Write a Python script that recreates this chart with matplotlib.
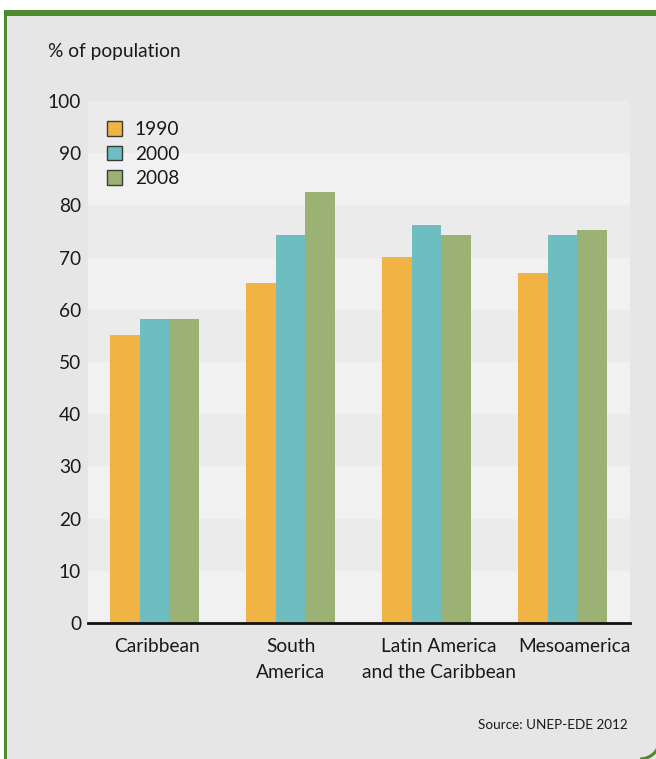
import matplotlib
matplotlib.use("Agg")
import matplotlib.pyplot as plt
import matplotlib.transforms as mtransforms
import numpy as np
from matplotlib.patches import Rectangle, Arc, Patch

categories = ["Caribbean", "South\nAmerica", "Latin America\nand the Caribbean", "Mesoamerica"]
years = ["1990", "2000", "2008"]
v1990 = [55.2, 65.1, 70.1, 67.0]
v2000 = [58.2, 74.3, 76.2, 74.3]
v2008 = [58.2, 82.6, 74.3, 75.3]
series = [v1990, v2000, v2008]
colors = ["#f2b345", "#6dbdc1", "#9bb274"]
yticks = [0, 10, 20, 30, 40, 50, 60, 70, 80, 90, 100]

plt.rcParams['font.family'] = ['Lato', 'DejaVu Sans']

W, H = 656, 759
fig = plt.figure(figsize=(W / 100, H / 100), dpi=100)
fig.patch.set_facecolor("white")

green = "#4d8a2e"
bg = "#e6e6e6"
fs = 13.8
# background panel
fig.add_artist(Rectangle((7 / W, 0), 1, 1 - 16 / H, transform=fig.transFigure,
                         facecolor=bg, edgecolor="none", zorder=0))
# top green bar
fig.add_artist(Rectangle((4 / W, 1 - 16 / H), 1, 6 / H, transform=fig.transFigure,
                         facecolor=green, edgecolor="none", zorder=1))
# left green line
fig.add_artist(Rectangle((4 / W, 0), 3 / W, 1 - 10 / H, transform=fig.transFigure,
                         facecolor=green, edgecolor="none", zorder=1))
# bottom-right rounded corner
fig.add_artist(Arc((640 / 100, 20 / 100), 0.40, 0.40, theta1=270, theta2=360,
                   transform=fig.dpi_scale_trans, color=green, lw=2.2, zorder=1))

left, right, top, bottom = 88, 630, 101, 623
ax = fig.add_axes([left / W, 1 - bottom / H, (right - left) / W, (bottom - top) / H])
ax.set_facecolor("none")

# alternating bands
for i in range(len(yticks) - 1):
    c = "#f1f1f1" if i % 2 == 0 else "#ebebeb"
    ax.axhspan(yticks[i], yticks[i + 1], facecolor=c, edgecolor="none", zorder=0)

x = np.arange(len(categories))
bw = 0.217
for k, (vals, col, yr) in enumerate(zip(series, colors, years)):
    ax.bar(x + (k - 1) * bw, vals, width=bw, color=col, label=yr, zorder=2)

ax.set_xlim(-0.489, 3.496)
ax.set_ylim(0, 100)
ax.set_yticks(yticks)
ax.set_xticks(x)
ax.set_xticklabels(categories, fontsize=fs, color="#1a1a1a", linespacing=1.6)
ax.tick_params(axis="y", length=0, pad=5, labelsize=fs, labelcolor="#1a1a1a")
ax.tick_params(axis="x", length=0, pad=11)
for s in ["left", "right", "top"]:
    ax.spines[s].set_visible(False)
ax.spines["bottom"].set_linewidth(2)
ax.spines["bottom"].set_color("#111111")

# slight horizontal offsets of some category labels, as in the original
label_shift_px = [2, 0, 12, 12]
for lbl, dx in zip(ax.get_xticklabels(), label_shift_px):
    lbl.set_transform(lbl.get_transform() +
                      mtransforms.ScaledTranslation(dx / 100, 0, fig.dpi_scale_trans))

handles = [Patch(facecolor=c, edgecolor="#3a3a3a", linewidth=1.0) for c in colors]
leg = ax.legend(handles, years, loc="upper left", bbox_to_anchor=(0.035, 0.962),
                frameon=False, fontsize=fs, handlelength=0.8, handleheight=0.8,
                handletextpad=0.65, labelspacing=0.4, borderpad=0, borderaxespad=0)
for t in leg.get_texts():
    t.set_color("#1a1a1a")

fig.text(48 / W, 1 - 52 / H, "% of population", fontsize=fs, color="#1a1a1a",
         ha="left", va="center")
fig.text(628 / W, 1 - 725 / H, "Source: UNEP-EDE 2012", fontsize=9.7, color="#1a1a1a",
         ha="right", va="center")

fig.savefig("out.png", dpi=100, facecolor=fig.get_facecolor())
